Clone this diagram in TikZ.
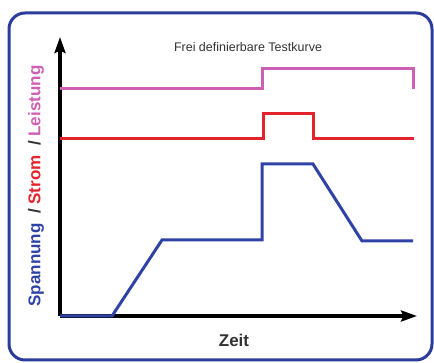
\documentclass[tikz,border=0pt]{standalone}
\usepackage{fontspec}
\setmainfont{Liberation Sans}
\usepackage{tikz}
\usetikzlibrary{arrows.meta}
\tikzstyle{curve} = [line width=3pt, line join=miter, line cap=butt]
\tikzstyle{axis} = [line width=3.2pt, -{Stealth[length=16pt,width=11pt,inset=2.5pt]}]
\definecolor{rahmen}{HTML}{2B3C9B}
\definecolor{sp}{HTML}{2F42A6}
\definecolor{st}{HTML}{E4232C}
\definecolor{le}{HTML}{CF5FB3}
\definecolor{txt}{HTML}{333333}

\begin{document}
\begin{tikzpicture}[x=1pt,y=-1pt]
			\useasboundingbox (0,0) rectangle (434,363);
			\draw[line width=3pt,rahmen,rounded corners=16pt] (9,13) rectangle (432,360);
			\coordinate (O) at (60,316);
			\coordinate (ytop) at (60,37);
			\coordinate (xend) at (417,316);
			\draw[axis] (O)--(ytop);
			\draw[axis] (O)--(xend);
			\node[text=txt,font=\fontsize{12.5}{14}\selectfont] (titel) at (248,47) {Frei definierbare Testkurve};
			\node[text=txt,font=\bfseries\fontsize{17}{20}\selectfont] (zeit) at (234,340) {Zeit};
			\node[rotate=90,text=txt,font=\bfseries\fontsize{17}{20}\selectfont] (ylab) at (36,186)
				{\textcolor{sp}{Spannung}\ \ /\ \textcolor{st}{Strom}\ \ /\ \textcolor{le}{Leistung}};
			\draw[curve,le] (60,89) -- (262,89) -- (262,69) -- (413,69) -- (413,89);
			\draw[curve,st] (60,139) -- (263,139) -- (263,114) -- (313,114) -- (313,139) -- (414,139);
			\draw[curve,sp] (60,316) -- (112,316) -- (162,240) -- (262,240) -- (262,164) -- (313,164) -- (362,241) -- (413,241);
		\end{tikzpicture}
\end{document}
